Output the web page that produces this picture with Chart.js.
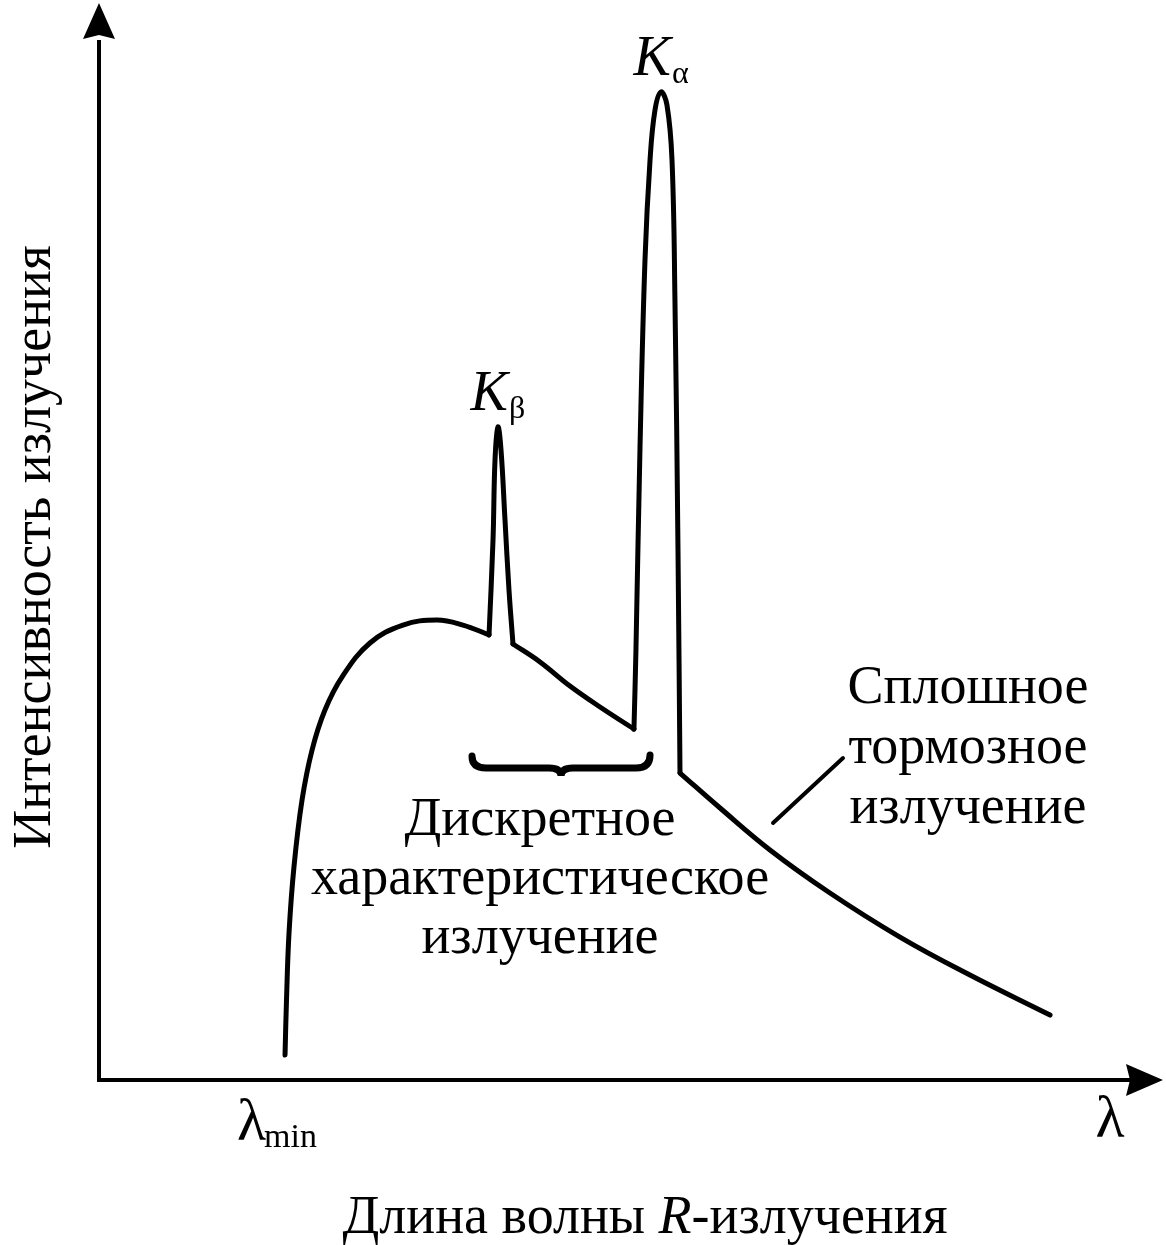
<!DOCTYPE html>
<html>
<head>
<meta charset="utf-8">
<script src="https://cdn.jsdelivr.net/npm/chart.js@4/dist/chart.umd.min.js"></script>
<style>
  html, body { margin: 0; padding: 0; background: #fff; }
  canvas { display: block; }
</style>
</head>
<body>
<canvas id="spectrum" width="1166" height="1245"></canvas>
<script>
// Spectrum (arbitrary units: wavelength 0..100, intensity 0..100)
const riseX = [17.7, 17.84, 18.08, 18.55, 19.32, 20.27, 21.5, 23.12, 25.78, 28.92, 32.16, 34.63, 37.11];
const riseY = [2.34, 7.48, 13.74, 19.91, 26.17, 30.84, 34.58, 37.66, 40.84, 42.52, 42.99, 42.52, 41.6];

const betaX = [37.11, 37.49, 37.68, 37.96, 38.25, 38.63, 39.01, 39.39];
const betaY = [41.6, 50.47, 57.94, 61.03, 58.88, 52.34, 45.79, 40.75];

const midX = [39.39, 41.96, 44.81, 47.67, 50.9];
const midY = [40.75, 39.07, 36.82, 34.86, 32.8];

const alphaX = [50.9, 51.09, 51.47, 51.95, 52.43, 52.9, 53.47, 54.04, 54.52, 54.8, 55.09, 55.28];
const alphaY = [32.8, 40.19, 58.88, 76.64, 85.98, 90.65, 92.34, 91.12, 85.98, 72.9, 49.53, 28.69];

const tailX = [55.28, 59.09, 63.84, 69.55, 76.21, 82.87, 90.49];
const tailY = [28.69, 25.42, 21.5, 17.48, 13.36, 9.81, 6.07];

const segments = [
  [riseX, riseY], [betaX, betaY], [midX, midY], [alphaX, alphaY], [tailX, tailY]
];

const SERIF = '"Liberation Serif", "DejaVu Serif", serif';
const TEXT_SIZE = 54;

// Build datasets: one per smooth piece so the corners at the peaks stay sharp
const datasets = segments.map(([xs, ys]) => ({
  data: xs.map((x, i) => ({ x: x, y: ys[i] })),
  showLine: true,
  borderColor: '#000',
  borderWidth: 5,
  pointRadius: 0,
  tension: 0.4,
  borderCapStyle: 'round',
  borderJoinStyle: 'round'
}));

// Draws axes, arrows, labels and the brace
const decorations = {
  id: 'decorations',
  afterDraw(chart) {
    const ctx = chart.ctx;
    const area = chart.chartArea;
    const sx = chart.scales.x, sy = chart.scales.y;
    const px = v => sx.getPixelForValue(v);
    const py = v => sy.getPixelForValue(v);
    const x0 = px(0), y0 = py(0);
    const font = (size, italic) => (italic ? 'italic ' : '') + size + 'px ' + SERIF;

    ctx.save();
    ctx.strokeStyle = '#000';
    ctx.fillStyle = '#000';
    ctx.lineWidth = 4;

    // y axis
    ctx.beginPath();
    ctx.moveTo(x0, y0 + 2);
    ctx.lineTo(x0, area.top + 30);
    ctx.stroke();
    ctx.beginPath();
    ctx.moveTo(x0, area.top - 7);
    ctx.lineTo(x0 + 16, area.top + 29);
    ctx.lineTo(x0, area.top + 25);
    ctx.lineTo(x0 - 16, area.top + 29);
    ctx.closePath();
    ctx.fill();

    // x axis
    const tip = area.right + 13;
    ctx.beginPath();
    ctx.moveTo(x0 - 2, y0);
    ctx.lineTo(tip - 30, y0);
    ctx.stroke();
    ctx.beginPath();
    ctx.moveTo(tip, y0);
    ctx.lineTo(tip - 37, y0 - 16);
    ctx.lineTo(tip - 33, y0);
    ctx.lineTo(tip - 37, y0 + 16);
    ctx.closePath();
    ctx.fill();

    // brace under the characteristic lines
    const bx1 = px(35.49), bx2 = px(52.43), by = py(29.16);
    const bm = (bx1 + bx2) / 2;
    ctx.lineWidth = 7;
    ctx.lineCap = 'round';
    ctx.beginPath();
    ctx.moveTo(bx1, by - 12);
    ctx.quadraticCurveTo(bx1, by, bx1 + 14, by);
    ctx.lineTo(bm - 12, by);
    ctx.quadraticCurveTo(bm, by, bm, by + 8);
    ctx.quadraticCurveTo(bm, by, bm + 12, by);
    ctx.lineTo(bx2 - 14, by);
    ctx.quadraticCurveTo(bx2, by, bx2, by - 13);
    ctx.stroke();

    // leader line to the bremsstrahlung label
    ctx.lineWidth = 4;
    ctx.beginPath();
    ctx.moveTo(px(64.13), py(24.02));
    ctx.lineTo(px(70.79), py(30.09));
    ctx.stroke();

    // peak labels
    const labelK = (peakX, peakY, sub) => {
      const kx = px(peakX) + 10, ky = py(peakY) - 17;
      ctx.font = font(56, true);
      ctx.textAlign = 'right';
      ctx.textBaseline = 'alphabetic';
      ctx.fillText('K', kx, ky);
      ctx.font = font(32);
      ctx.textAlign = 'left';
      ctx.fillText(sub, kx + 1, ky + 8);
    };
    labelK(53.47, 92.34, 'α');
    labelK(37.96, 61.03, 'β');

    // text blocks
    ctx.font = font(TEXT_SIZE);
    ctx.textAlign = 'center';
    ['Дискретное', 'характеристическое', 'излучение'].forEach((t, i) => {
      ctx.fillText(t, 540, 835 + i * 59);
    });
    ['Сплошное', 'тормозное', 'излучение'].forEach((t, i) => {
      ctx.fillText(t, 968, 703 + i * 60);
    });

    // wavelength marks
    ctx.font = font(60);
    ctx.textAlign = 'right';
    ctx.fillText('λ', px(riseX[0]) - 19, 1140);
    ctx.font = font(34);
    ctx.textAlign = 'left';
    ctx.fillText('min', px(riseX[0]) - 21, 1147);
    ctx.font = font(60);
    ctx.textAlign = 'center';
    ctx.fillText('λ', 1110, 1137);

    // x axis title (R in italics)
    ctx.font = font(TEXT_SIZE);
    const partA = 'Длина волны ', partB = 'R', partC = '-излучения';
    const wA = ctx.measureText(partA).width, wC = ctx.measureText(partC).width;
    ctx.font = font(TEXT_SIZE, true);
    const wB = ctx.measureText(partB).width;
    let tx = 645 - (wA + wB + wC) / 2;
    ctx.textAlign = 'left';
    ctx.font = font(TEXT_SIZE);
    ctx.fillText(partA, tx, 1233);
    ctx.font = font(TEXT_SIZE, true);
    ctx.fillText(partB, tx + wA, 1233);
    ctx.font = font(TEXT_SIZE);
    ctx.fillText(partC, tx + wA + wB, 1233);

    // y axis title
    ctx.translate(50, 547);
    ctx.rotate(-Math.PI / 2);
    ctx.textAlign = 'center';
    ctx.fillText('Интенсивность излучения', 0, 0);
    ctx.restore();
  }
};

new Chart(document.getElementById('spectrum'), {
  type: 'scatter',
  data: { datasets: datasets },
  options: {
    responsive: false,
    animation: false,
    layout: { padding: { left: 99, right: 16, top: 10, bottom: 165 } },
    plugins: { legend: { display: false }, tooltip: { enabled: false } },
    scales: {
      x: { type: 'linear', min: 0, max: 100, display: false },
      y: { type: 'linear', min: 0, max: 100, display: false }
    }
  },
  plugins: [decorations]
});
</script>
</body>
</html>
